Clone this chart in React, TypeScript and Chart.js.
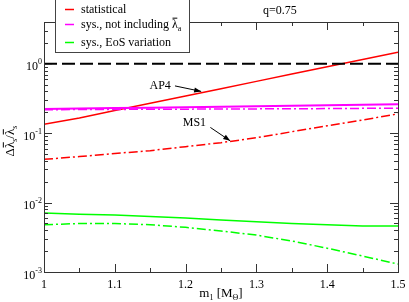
import React, { useEffect, useRef } from "react";
import { Chart, registerables } from "chart.js";

Chart.register(...registerables);

const mass = [1.0, 1.05, 1.1, 1.15, 1.2, 1.25, 1.3, 1.35, 1.4, 1.45, 1.5];
const statistical = [0.134, 0.165, 0.212, 0.27, 0.344, 0.438, 0.558, 0.711, 0.906, 1.15, 1.47];
const sysNoLambdaAP4 = [0.224, 0.227, 0.23, 0.233, 0.237, 0.24, 0.244, 0.248, 0.252, 0.257, 0.262];
const sysNoLambdaMS1 = [0.218, 0.219, 0.22, 0.221, 0.222, 0.223, 0.224, 0.225, 0.226, 0.228, 0.229];
const statisticalMS1 = [0.042, 0.046, 0.051, 0.056, 0.064, 0.073, 0.086, 0.105, 0.128, 0.155, 0.19];
const eosAP4 = [0.0071, 0.0068, 0.0066, 0.0063, 0.006, 0.0056, 0.0053, 0.005, 0.0048, 0.0046, 0.0046];
const eosMS1 = [0.0048, 0.005, 0.005, 0.0048, 0.0044, 0.0039, 0.0034, 0.0028, 0.0022, 0.0017, 0.0013];
const reference = [1, 1];
const referenceX = [1.0, 1.5];

const xTicks = [1, 1.1, 1.2, 1.3, 1.4, 1.5];
const xTickLabels = ["1", "1.1", "1.2", "1.3", "1.4", "1.5"];
const yDecades = [-3, -2, -1, 0];
const yRange = [0.001, 4];

const legendLabels = ["statistical", "sys., not including ", "sys., EoS variation"];
const legendColors = ["#ff0000", "#ff00ff", "#00ff00"];
const titleText = "q=0.75";

const SERIF = "'Liberation Serif', 'DejaVu Serif', serif";

type Part = { t: string; s: number; dy?: number; over?: boolean };

function richWidth(ctx: CanvasRenderingContext2D, parts: Part[]) {
  let w = 0;
  for (const p of parts) {
    ctx.font = `${p.s}px ${SERIF}`;
    w += ctx.measureText(p.t).width;
  }
  return w;
}

function drawRich(ctx: CanvasRenderingContext2D, parts: Part[], x: number, y: number, align: "left" | "center" | "right") {
  const w = richWidth(ctx, parts);
  let cx = align === "left" ? x : align === "center" ? x - w / 2 : x - w;
  ctx.textAlign = "left";
  ctx.textBaseline = "alphabetic";
  for (const p of parts) {
    ctx.font = `${p.s}px ${SERIF}`;
    const pw = ctx.measureText(p.t).width;
    ctx.fillText(p.t, cx, y + (p.dy || 0));
    if (p.over) {
      ctx.save();
      ctx.lineWidth = 1;
      ctx.strokeStyle = ctx.fillStyle as string;
      ctx.beginPath();
      const oy = y + (p.dy || 0) - p.s * 0.82;
      ctx.moveTo(cx + 0.5, oy);
      ctx.lineTo(cx + pw - 0.5, oy);
      ctx.stroke();
      ctx.restore();
    }
    cx += pw;
  }
}

function arrow(ctx: CanvasRenderingContext2D, x1: number, y1: number, x2: number, y2: number) {
  ctx.save();
  ctx.strokeStyle = "#000";
  ctx.fillStyle = "#000";
  ctx.lineWidth = 1;
  ctx.beginPath();
  ctx.moveTo(x1, y1);
  ctx.lineTo(x2, y2);
  ctx.stroke();
  const a = Math.atan2(y2 - y1, x2 - x1);
  const L = 7, W = 2.6;
  ctx.beginPath();
  ctx.moveTo(x2, y2);
  ctx.lineTo(x2 - L * Math.cos(a) + W * Math.sin(a), y2 - L * Math.sin(a) - W * Math.cos(a));
  ctx.lineTo(x2 - L * Math.cos(a) - W * Math.sin(a), y2 - L * Math.sin(a) + W * Math.cos(a));
  ctx.closePath();
  ctx.fill();
  ctx.restore();
}

const decor = {
  id: "decor",
  afterDraw(chart: any) {
    const ctx: CanvasRenderingContext2D = chart.ctx;
    const xs = chart.scales.x;
    const ys = chart.scales.y;
    const { left, right, top, bottom } = chart.chartArea;
    ctx.save();
    // frame
    ctx.strokeStyle = "#333";
    ctx.lineWidth = 1;
    ctx.strokeRect(Math.round(left) + 0.5, Math.round(top) + 0.5, Math.round(right - left), Math.round(bottom - top));
    // x ticks
    ctx.beginPath();
    for (let v = 1.0; v <= 1.5001; v += 0.05) {
      const major = Math.abs(v * 10 - Math.round(v * 10)) < 1e-6;
      const len = major ? 8 : 4;
      const px = Math.round(xs.getPixelForValue(v)) + 0.5;
      ctx.moveTo(px, bottom);
      ctx.lineTo(px, bottom - len);
      ctx.moveTo(px, top);
      ctx.lineTo(px, top + len);
    }
    // y ticks
    for (const d of yDecades) {
      for (let m = 1; m <= 9; m++) {
        const v = m * Math.pow(10, d);
        if (v > yRange[1] * 1.0001) break;
        const len = m === 1 ? 8 : 4;
        const py = Math.round(ys.getPixelForValue(v)) + 0.5;
        ctx.moveTo(left, py);
        ctx.lineTo(left + len, py);
        ctx.moveTo(right, py);
        ctx.lineTo(right - len, py);
      }
    }
    ctx.stroke();

    ctx.fillStyle = "#000";
    // x tick labels
    ctx.font = `12px ${SERIF}`;
    ctx.textAlign = "center";
    ctx.textBaseline = "alphabetic";
    xTicks.forEach((v, i) => {
      ctx.fillText(xTickLabels[i], xs.getPixelForValue(v), bottom + 16);
    });
    // y tick labels
    for (const d of yDecades) {
      const py = ys.getPixelForValue(Math.pow(10, d));
      drawRich(ctx, [{ t: "10", s: 12 }, { t: String(d), s: 8, dy: -6 }], left - 2, py + 6.5, "right");
    }
    // axis titles
    drawRich(ctx, [{ t: "m", s: 13 }, { t: "1", s: 8, dy: 3 }, { t: " [M", s: 13 }, { t: "\u0398", s: 8, dy: 3 }, { t: "]", s: 13 }], (left + right) / 2, 297, "center");
    ctx.save();
    ctx.translate(14, 141);
    ctx.rotate(-Math.PI / 2);
    drawRich(ctx, [
      { t: "\u0394", s: 13 },
      { t: "\u03bb", s: 13, over: true },
      { t: "s", s: 8, dy: 3 },
      { t: "/", s: 13 },
      { t: "\u03bb", s: 13, over: true },
      { t: "s", s: 8, dy: 3 },
    ], 0, 0, "center");
    ctx.restore();

    // title
    ctx.font = `12px ${SERIF}`;
    ctx.textAlign = "center";
    ctx.fillText(titleText, xs.getPixelForValue(1.333), 14);

    // annotations
    ctx.font = `12px ${SERIF}`;
    ctx.textAlign = "left";
    ctx.fillText("AP4", xs.getPixelForValue(1.149), ys.getPixelForValue(0.5) + 4);
    arrow(ctx, xs.getPixelForValue(1.185), ys.getPixelForValue(0.48), xs.getPixelForValue(1.222), ys.getPixelForValue(0.40));
    ctx.fillText("MS1", xs.getPixelForValue(1.196), ys.getPixelForValue(0.145) + 4);
    arrow(ctx, xs.getPixelForValue(1.235), ys.getPixelForValue(0.121), xs.getPixelForValue(1.263), ys.getPixelForValue(0.0775));

    // legend
    const bx = 55.5, by = -0.5, bw = 134, bh = 53;
    ctx.fillStyle = "#fff";
    ctx.fillRect(bx, by, bw, bh);
    ctx.strokeStyle = "#444";
    ctx.lineWidth = 1;
    ctx.strokeRect(bx, by, bw, bh);
    const rows = [9, 24, 42];
    rows.forEach((ry, i) => {
      ctx.strokeStyle = legendColors[i];
      ctx.lineWidth = 1.5;
      ctx.beginPath();
      ctx.moveTo(65, ry + 0.5);
      ctx.lineTo(74, ry + 0.5);
      ctx.stroke();
      ctx.fillStyle = "#000";
      if (i === 1) {
        drawRich(ctx, [{ t: legendLabels[i], s: 12 }, { t: "\u03bb", s: 12, over: true }, { t: "a", s: 8, dy: 3 }], 81, ry + 4, "left");
      } else {
        drawRich(ctx, [{ t: legendLabels[i], s: 12 }], 81, ry + 4, "left");
      }
    });
    ctx.restore();
  },
};

const DASHDOT = [9, 3, 2, 3];

export default function App() {
  const ref = useRef<HTMLCanvasElement>(null);
  useEffect(() => {
    if (!ref.current) return;
    const pts = (ys: number[]) => mass.map((m, i) => ({ x: m, y: ys[i] }));
    const line = (data: any, color: string, dash: number[] = [], width = 1.5) => ({
      data,
      borderColor: color,
      borderWidth: width,
      borderDash: dash,
      pointRadius: 0,
      fill: false,
      tension: 0,
    });
    const chart = new Chart(ref.current, {
      type: "line",
      data: {
        datasets: [
          line(referenceX.map((x, i) => ({ x, y: reference[i] })), "#000", [13, 5], 2),
          line(pts(eosMS1), "#00ff00", DASHDOT),
          line(pts(eosAP4), "#00ff00"),
          line(pts(statisticalMS1), "#ff0000", DASHDOT),
          line(pts(sysNoLambdaMS1), "#ff00ff", DASHDOT),
          line(pts(sysNoLambdaAP4), "#ff00ff", [], 2),
          line(pts(statistical), "#ff0000"),
        ] as any,
      },
      options: {
        animation: false,
        responsive: false,
        maintainAspectRatio: false,
        layout: { padding: { left: 44, right: 11, top: 22, bottom: 30 } },
        plugins: { legend: { display: false }, tooltip: { enabled: false }, title: { display: false } },
        scales: {
          x: { type: "linear", min: 1, max: 1.5, display: false },
          y: { type: "logarithmic", min: yRange[0], max: yRange[1], display: false },
        },
      },
      plugins: [decor],
    });
    return () => chart.destroy();
  }, []);
  return (
    <div style={{ position: "fixed", left: 0, top: 0, width: 409, height: 302, background: "#fff" }}>
      <canvas ref={ref} width={409} height={302} style={{ width: 409, height: 302, display: "block" }} />
    </div>
  );
}
